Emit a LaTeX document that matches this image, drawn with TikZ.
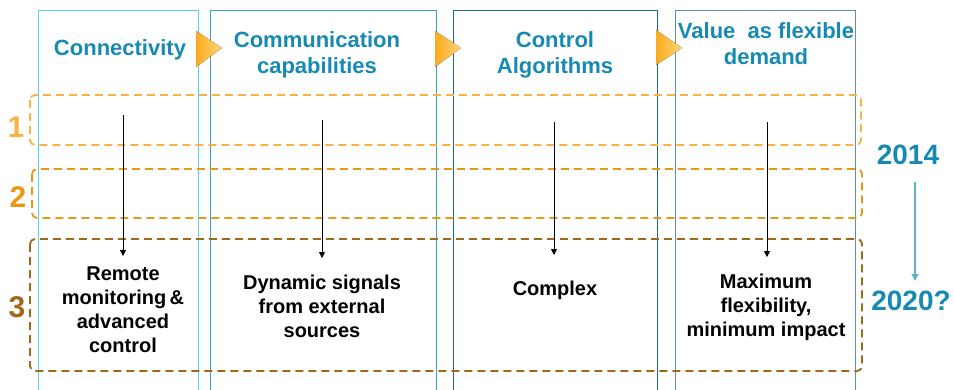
\documentclass[tikz,border=0pt]{standalone}
\usepackage{fontspec}
\setmainfont{Liberation Sans}
\usetikzlibrary{arrows.meta}
\definecolor{hdr}{RGB}{22,138,178}
\definecolor{colA}{RGB}{90,210,245}
\definecolor{colB}{RGB}{60,160,192}
\definecolor{colC}{RGB}{26,104,144}
\definecolor{colD}{RGB}{96,144,160}
\definecolor{rowA}{RGB}{250,178,70}
\definecolor{rowB}{RGB}{232,152,20}
\definecolor{rowC}{RGB}{160,104,26}
\definecolor{goldL}{RGB}{250,170,30}
\definecolor{goldR}{RGB}{253,214,120}
\definecolor{tline}{RGB}{90,178,204}
\tikzset{
  colbox/.style={line width=0.9pt},
  rowbox/.style={line width=1.8pt, dash pattern=on 8pt off 5pt, rounded corners=5pt},
  header/.style={font=\fontsize{22}{26}\selectfont\bfseries, text=hdr, align=center, inner sep=0pt},
  body/.style={font=\fontsize{20}{24}\selectfont\bfseries, text=black, align=center, inner sep=0pt},
  rownum/.style={font=\fontsize{30}{30}\selectfont\bfseries, inner sep=0pt},
  year/.style={font=\fontsize{28}{28}\selectfont\bfseries, text=hdr, inner sep=0pt},
  flow/.style={draw=black, line width=0.8pt, -{Triangle[length=6pt,width=6pt]}},
  chevron/.style={left color=goldL, right color=goldR, draw=none},
}
\begin{document}
\begin{tikzpicture}[x=1pt,y=-1pt]
\useasboundingbox (0,0) rectangle (954,389);
\begin{scope}
\clip (0,0) rectangle (954,389);
% columns
\draw[colbox, colA] (38,10) rectangle (198,400);
\draw[colbox, colB] (210,10) rectangle (436,400);
\draw[colbox, colC] (453,10) rectangle (657,400);
\draw[colbox, colD] (675,10) rectangle (855,400);
% rows
\draw[rowbox, rowA] (30,95) rectangle (861,145);
\draw[rowbox, rowB] (32,169) rectangle (862,218);
\draw[rowbox, rowC] (30,239) rectangle (862,371);
\end{scope}
% chevrons
\fill[chevron] (196,31) -- (222,48) -- (196,67) -- cycle;
\fill[chevron] (435,31) -- (461,48) -- (435,67) -- cycle;
\fill[chevron] (656,30) -- (682,48) -- (656,65) -- cycle;
% headers
\node[header] (h1) at (120,50) {Connectivity};
\node[header] (h2) at (317,55) {Communication\\capabilities};
\node[header] (h3) at (555,55) {Control\\Algorithms};
\node[header] (h4) at (766,43.5) {Value\ \ as flexible\\demand};
% row numbers
\node[rownum, text=rowA] (n1) at (16,127) {1};
\node[rownum, text=rowB] (n2) at (18,197) {2};
\node[rownum, text=rowC] (n3) at (17,307) {3};
% bottom texts
\node[body] (b1) at (123,310) {Remote\\monitoring\,\&\\advanced\\control};
\node[body] (b2) at (322,306) {Dynamic signals\\from external\\sources};
\node[body] (b3) at (555,290) {Complex};
\node[body] (b4) at (766,307.5) {Maximum\\flexibility,\\minimum impact};
% flow arrows
\coordinate (s1) at (123,115); \coordinate (e1) at (123,256);
\coordinate (s2) at (322,120); \coordinate (e2) at (322,258);
\coordinate (s3) at (554,122); \coordinate (e3) at (554,255);
\coordinate (s4) at (767,122); \coordinate (e4) at (767,257);
\draw[flow] (s1) -- (e1);
\draw[flow] (s2) -- (e2);
\draw[flow] (s3) -- (e3);
\draw[flow] (s4) -- (e4);
% timeline
\node[year] (y1) at (908,155) {2014};
\node[year] (y2) at (911,301) {2020?};
\coordinate (ts) at (915,182); \coordinate (te) at (915,281);
\draw[tline, line width=1.2pt, -{Triangle[length=7pt,width=7pt]}] (ts) -- (te);
\end{tikzpicture}
\end{document}
